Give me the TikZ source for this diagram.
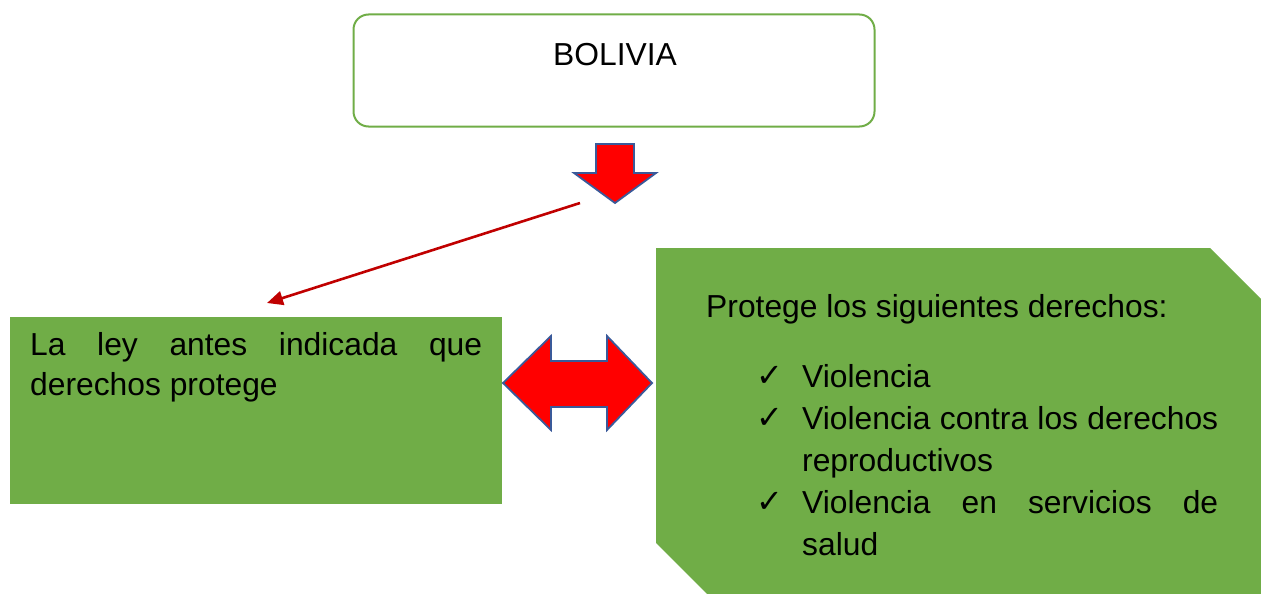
\documentclass[tikz,border=0pt]{standalone}
\usepackage{fontspec}
\setmainfont{Liberation Sans}
\newfontfamily\symfont{DejaVu Sans}
\usetikzlibrary{arrows.meta}
\definecolor{boxgreen}{HTML}{70AD47}
\definecolor{arrowred}{HTML}{FF0000}
\definecolor{arrowblue}{HTML}{3A5A9A}
\definecolor{linered}{HTML}{C00000}
\tikzset{
  txt/.style={inner sep=0pt, anchor=base west, font=\fontsize{31.8}{42}\selectfont},
  chk/.style={inner sep=0pt, anchor=base west, font=\symfont\fontsize{32}{32}\selectfont},
  blockarrow/.style={fill=arrowred, draw=arrowblue, line width=1.8pt, line join=miter},
}
\begin{document}
\begin{tikzpicture}[x=1pt,y=-1pt]
\useasboundingbox (0,0) rectangle (1261,594);
% BOLIVIA box
\node[draw=boxgreen, line width=2pt, rounded corners=15pt, minimum width=521pt, minimum height=112pt, inner sep=0pt] (bol) at (614,70.5) {};
\node[txt] (boltxt) at (553,66) {BOLIVIA};
% down block arrow
\path[blockarrow] (596,144) -- (634,144) -- (634,173) -- (656,173) -- (615,203) -- (574,173) -- (596,173) -- cycle;
\coordinate (downarrow) at (615,203);
% left box
\node[fill=boxgreen, minimum width=492pt, minimum height=187pt, inner sep=0pt, anchor=north west] (left) at (10,317) {};
\node[txt] (l1) at (30,355) {\hbox to 452pt{La\hfill ley\hfill antes\hfill indicada\hfill que}};
\node[txt] (l2) at (30,395) {derechos protege};
% connector line
\coordinate (lstart) at (580,203);
\coordinate (lend) at (267,303);
\draw[linered, line width=2.6pt, -{Triangle[length=16pt,width=14pt]}] (lstart) -- (lend);
% double block arrow
\path[blockarrow] (503,383) -- (551,336) -- (551,361) -- (607,361) -- (607,336) -- (652,383) -- (607,430) -- (607,407) -- (551,407) -- (551,430) -- cycle;
% right box (snipped corners)
\begin{scope}
\clip (0,0) rectangle (1261,594);
\path[fill=boxgreen] (656,248) -- (1210,248) -- (1272,310) -- (1272,605) -- (718,605) -- (656,543) -- cycle;
\end{scope}
\coordinate (right) at (656,383);
\node[txt] (r0) at (706,317) {Protege los siguientes derechos:};
\node[chk] (c1) at (756,386) {✓};
\node[txt] (r1) at (802,387) {Violencia};
\node[chk] (c2) at (756,428) {✓};
\node[txt] (r2) at (802,429) {\hbox to 416pt{Violencia\hfill contra\hfill los\hfill derechos}};
\node[txt] (r3) at (802,471) {reproductivos};
\node[chk] (c3) at (756,512) {✓};
\node[txt] (r4) at (802,513) {\hbox to 416pt{Violencia\hfill en\hfill servicios\hfill de}};
\node[txt] (r5) at (802,555) {salud};
\end{tikzpicture}
\end{document}
